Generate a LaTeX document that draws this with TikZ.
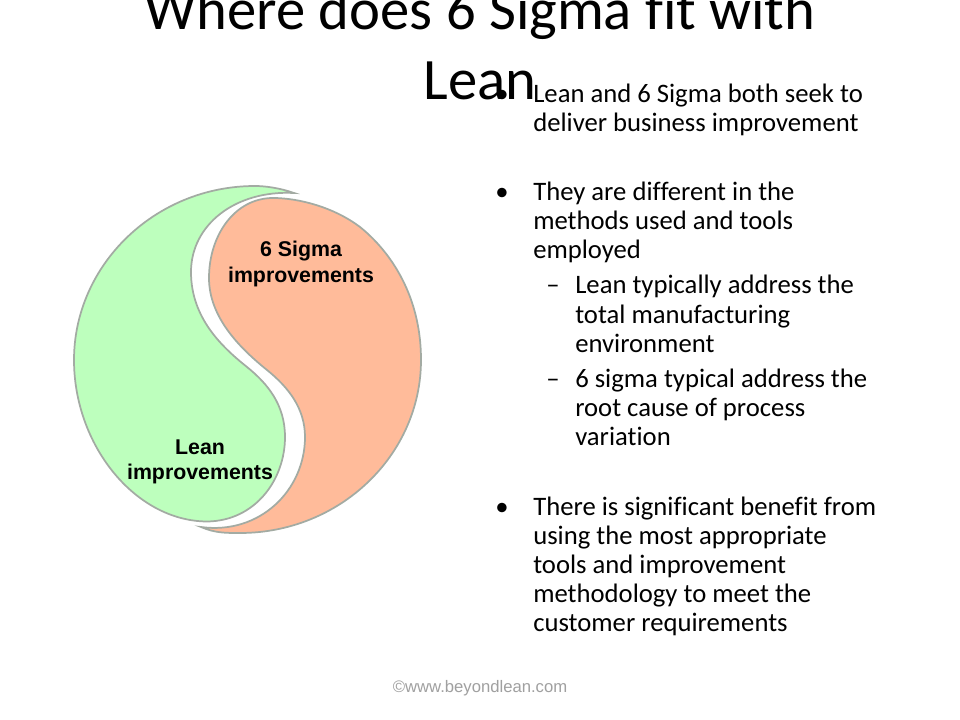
\documentclass[tikz,border=0pt]{standalone}
\usepackage{fontspec}
\setmainfont[Ligatures=NoCommon]{Carlito}
\newfontfamily\arialf{Liberation Sans}
\definecolor{leangreen}{HTML}{BDFFBD}
\definecolor{sigmasalmon}{HTML}{FFBB9A}
\definecolor{edgegray}{HTML}{A3ABA3}
\definecolor{footgray}{HTML}{A0A0A0}
\tikzset{
  titletext/.style={anchor=base,inner sep=0pt,font=\fontsize{44}{48}\selectfont,text=black},
  bodytext/.style={anchor=base west,inner sep=0pt,font=\fontsize{20}{24}\selectfont,text=black},
  marktext/.style={anchor=base,inner sep=0pt,font=\fontsize{20}{24}\selectfont,text=black},
  petal/.style={draw=edgegray,line width=1.3pt},
  petaltext/.style={anchor=base,inner sep=0pt,font=\arialf\bfseries\fontsize{16}{18}\selectfont,text=black},
  foottext/.style={anchor=base,inner sep=0pt,font=\arialf\fontsize{12.5}{14}\selectfont,text=footgray}
}
\begin{document}
\begin{tikzpicture}[x=0.75pt,y=-0.75pt]
\useasboundingbox (0,0) rectangle (960,720);
\fill[white] (0,0) rectangle (960,720);
% green petal
\draw[petal,fill=leangreen] (294,193)
  .. controls (280,188) and (265,186) .. (255,186)
  .. controls (155,186) and (74,265) .. (74,360)
  .. controls (74,445) and (135,521) .. (207,521.5)
  .. controls (255,521) and (285,480) .. (285,437)
  .. controls (285,405) and (268,384) .. (247,367)
  .. controls (222,347) and (191,318) .. (191,272)
  .. controls (191,225) and (235,190) .. (294,193) -- cycle;
% salmon petal
\draw[petal,fill=sigmasalmon] (201,527)
  .. controls (215,533) and (225,533) .. (240,533)
  .. controls (340,533) and (421,455) .. (421,360)
  .. controls (421,290) and (385,247) .. (360,227)
  .. controls (335,208) and (300,198) .. (273,198)
  .. controls (235,198) and (209,235) .. (209,278)
  .. controls (209,318) and (241,349) .. (267,370)
  .. controls (288,387) and (305,408) .. (305,437)
  .. controls (305,490) and (260,535) .. (201,527) -- cycle;
\node[petaltext] (s1) at (301,257) {6 Sigma};
\node[petaltext] (s2) at (301,282) {improvements};
\node[petaltext] (l1) at (200,454) {Lean};
\node[petaltext] (l2) at (200,479) {improvements};
% title
\node[titletext] (t1) at (480,30) {Where does 6 Sigma fit with};
\node[titletext] (t2) at (480,100) {Lean};
% bullets
\node[marktext] (b1) at (502,103) {•};
\node[marktext] (b2) at (502,201) {•};
\node[marktext] (b3) at (502,515) {•};
\node[marktext] (d1) at (553,294) {–};
\node[marktext] (d2) at (553,387) {–};
% body
\node[bodytext] (a1) at (533,103) {Lean and 6 Sigma both seek to};
\node[bodytext] (a2) at (533,132) {deliver business improvement};
\node[bodytext] (c1) at (533,201) {They are different in the};
\node[bodytext] (c2) at (533,230) {methods used and tools};
\node[bodytext] (c3) at (533,259) {employed};
\node[bodytext] (e1) at (575,294) {Lean typically address the};
\node[bodytext] (e2) at (575,323) {total manufacturing};
\node[bodytext] (e3) at (575,352) {environment};
\node[bodytext] (f1) at (575,387) {6 sigma typical address the};
\node[bodytext] (f2) at (575,416) {root cause of process};
\node[bodytext] (f3) at (575,445) {variation};
\node[bodytext] (g1) at (533,515) {There is significant benefit from};
\node[bodytext] (g2) at (533,544) {using the most appropriate};
\node[bodytext] (g3) at (533,573) {tools and improvement};
\node[bodytext] (g4) at (533,602) {methodology to meet the};
\node[bodytext] (g5) at (533,631) {customer requirements};
% footer
\node[foottext] (foot) at (480,692) {©www.beyondlean.com};
\end{tikzpicture}
\end{document}
